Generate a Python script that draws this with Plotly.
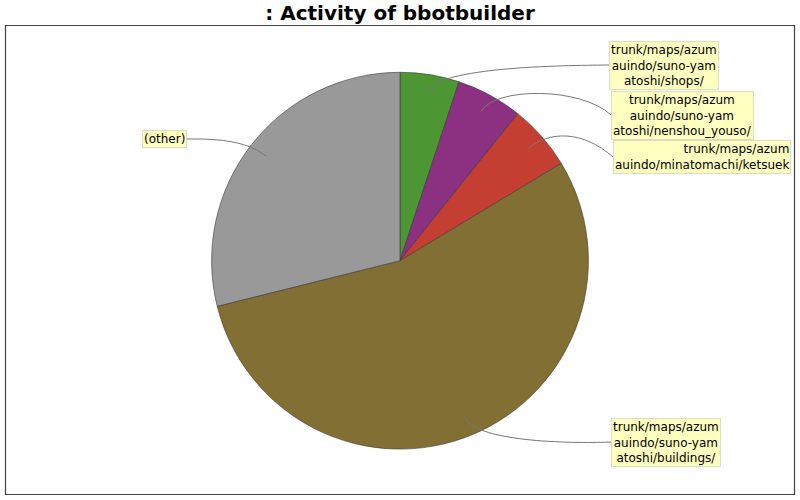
import math
import plotly.graph_objects as go

# Slice data (share of activity), clockwise from 12 o'clock
labels = [
    "trunk/maps/azum<br>auindo/suno-yam<br>atoshi/shops/",
    "trunk/maps/azum<br>auindo/suno-yam<br>atoshi/nenshou_youso/",
    "trunk/maps/azum<br>auindo/minatomachi/ketsuek",
    "trunk/maps/azum<br>auindo/suno-yam<br>atoshi/buildings/",
    "(other)",
]
values = [5.07, 5.68, 5.61, 54.75, 28.89]
colors = ["#4C9734", "#8C3082", "#C43E32", "#826F34", "#999999"]

W, H = 800, 500
cx, cy, R = 400, 260.7, 188.4

# label box placement (pixels): side, edge x, centre y
label_pos = [
    ("right", 609, 65),
    ("right", 611, 115),
    ("right", 613, 157),
    ("right", 611, 442),
    ("left", 187, 139),
]

fig = go.Figure()
fig.add_trace(go.Pie(
    labels=labels,
    values=values,
    marker=dict(colors=colors, line=dict(color="#3a3a3a", width=0.6)),
    sort=False,
    direction="clockwise",
    rotation=0,
    textinfo="none",
    hoverinfo="label+percent",
    showlegend=False,
    domain=dict(x=[(cx - R) / W, (cx + R) / W], y=[(H - cy - R) / H, (H - cy + R) / H]),
))

shapes = []
annotations = []
total = sum(values)
cum = 0
for i, v in enumerate(values):
    mid = (cum + v / 2) / total * 2 * math.pi
    cum += v
    sx, sy = math.sin(mid), -math.cos(mid)
    lx, ly = cx + 0.9 * R * sx, cy + 0.9 * R * sy
    ex, ey = cx + 1.05 * R * sx, cy + 1.05 * R * sy
    side, tx, ty = label_pos[i]
    ax = tx - 30 if side == "right" else tx + 25
    shapes.append(dict(
        type="path", xref="x", yref="y",
        path=f"M{lx:.1f},{ly:.1f} C{ex:.1f},{ey:.1f} {ax:.1f},{ey:.1f} {tx:.1f},{ty:.1f}",
        line=dict(color="#777777", width=1),
    ))
    annotations.append(dict(
        x=tx, y=ty, xref="x", yref="y",
        xanchor="left" if side == "right" else "right", yanchor="middle",
        text=labels[i], showarrow=False,
        align="right" if i == 2 else "center",
        font=dict(family="DejaVu Sans", size=12, color="#000000"),
        bgcolor="#FFFFC0", bordercolor="#DCDCC0", borderwidth=1, borderpad=1,
    ))

# chart frame
shapes.append(dict(type="rect", xref="x", yref="y", x0=5.5, y0=25.5, x1=794.5, y1=494.5,
                   line=dict(color="#444444", width=1.2), layer="above"))

fig.update_layout(
    width=W, height=H,
    margin=dict(l=0, r=0, t=0, b=0),
    paper_bgcolor="white", plot_bgcolor="rgba(0,0,0,0)",
    xaxis=dict(range=[0, W], visible=False, fixedrange=True),
    yaxis=dict(range=[H, 0], visible=False, fixedrange=True),
    title=dict(text="<b>: Activity of bbotbuilder</b>", x=0.5, xanchor="center",
               y=1 - 13 / H, yanchor="middle",
               font=dict(family="DejaVu Sans", size=20, color="#000000")),
    shapes=shapes,
    annotations=annotations,
)

fig.write_html("out.html", config={"displayModeBar": False},
               post_script="document.body.style.margin='0';")
